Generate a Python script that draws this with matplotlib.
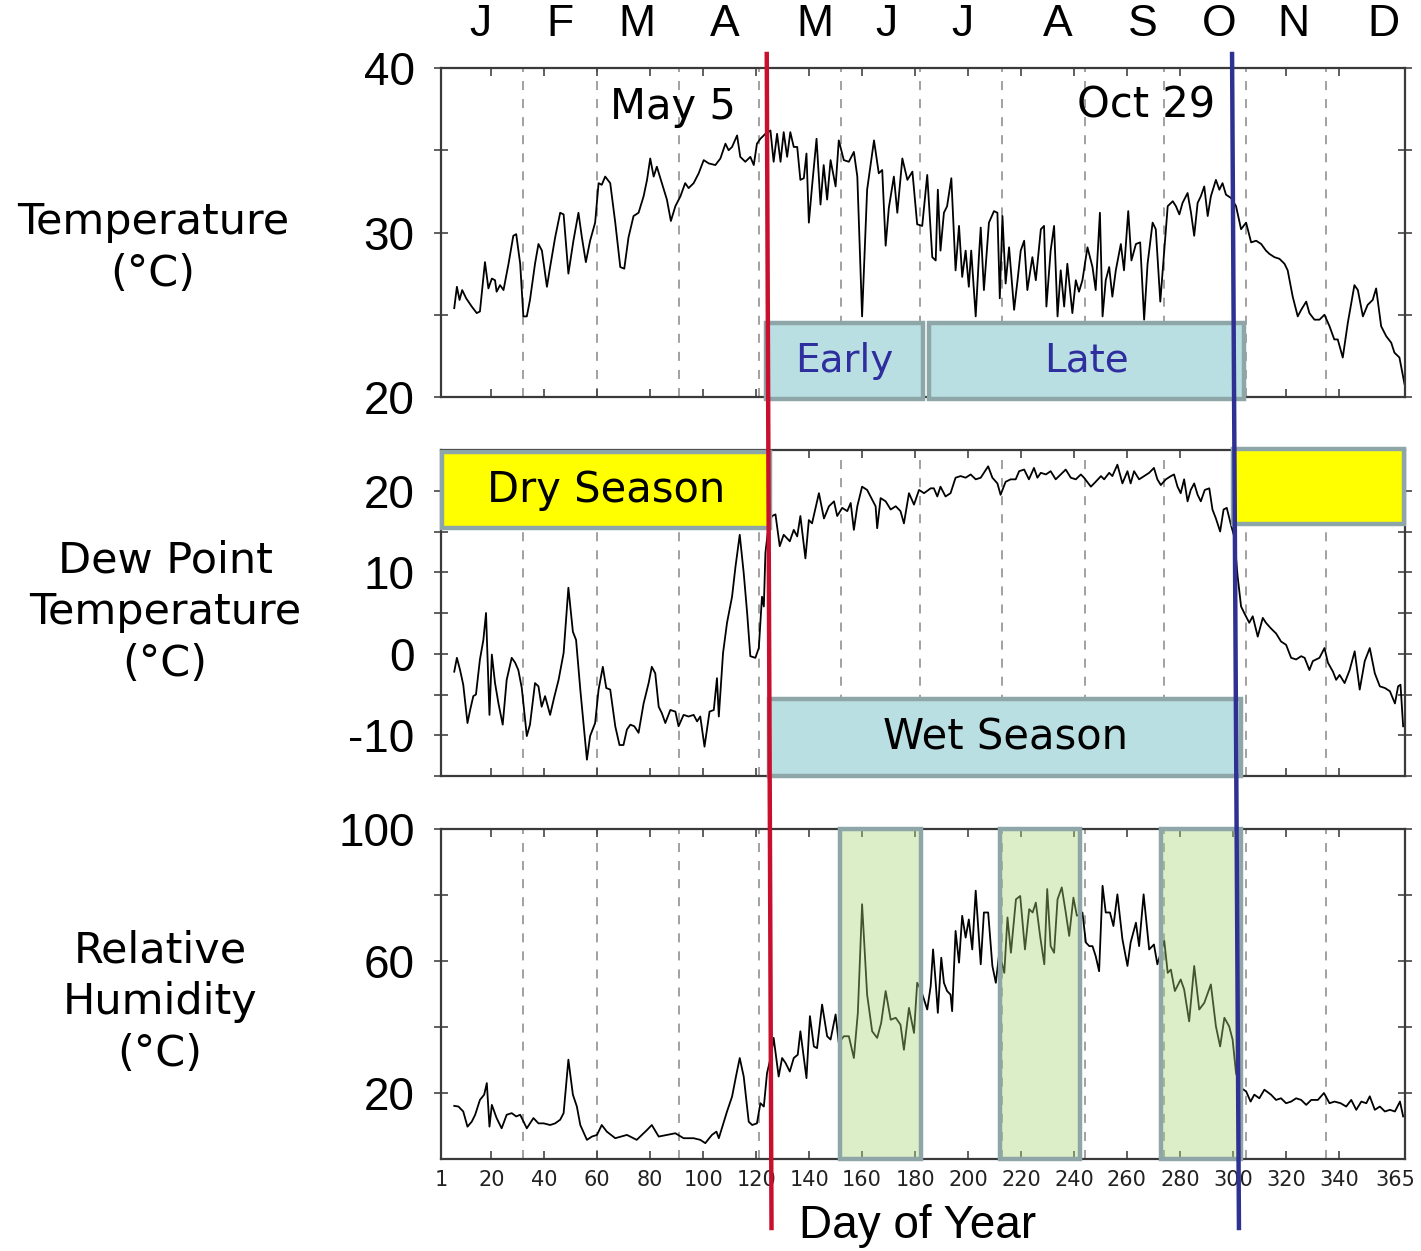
import numpy as np
import matplotlib
matplotlib.use("Agg")
import matplotlib.pyplot as plt
import matplotlib.transforms as mtrans
from matplotlib.patches import Rectangle
from matplotlib.lines import Line2D

plt.rcParams['axes.unicode_minus'] = False

# ---- data ----
temp_day = [6, 7, 8, 9, 10.5, 12.6, 14.5, 15.7, 17.6, 18.9, 20.2, 21.4, 22, 23.3, 24.6, 26.5, 28.3, 29.4,
            30.9, 32.1, 33.4, 34.6, 36.5, 37.8, 39.1, 41, 42.2, 44.1, 46, 47.3, 49.1, 51, 52.9, 54.2, 55.7,
            57.3, 59.2, 60.5, 61.7, 63, 64.9, 66.8, 68.7, 70.2, 71.8, 73.7, 75.6, 77.5, 78.8, 80, 81.3, 82.5,
            84.4, 86.3, 87.8, 89.5, 91.4, 93.2, 94.5, 96.4, 98.3, 100.2, 102.1, 104.6, 106.5, 108.4, 109.6,
            110.9, 112.8, 114, 115.9, 117.8, 119.1, 120.3, 121.6, 123.5, 125.4, 126.6, 127.9, 129.2, 130.4,
            131.7, 132.9, 134.2, 135.5, 136.7, 138, 139, 139.9, 141.1, 142.8, 144.3, 145.5, 146.8, 148.1,
            150, 151.2, 153.1, 155, 156.9, 158.2, 160, 161.9, 164.5, 166.3, 167.6, 168.9, 170.1, 172, 173.3,
            175.2, 177.1, 179, 180.8, 182.7, 184.6, 186.5, 187.8, 188.6, 189.6, 190.9, 192.1, 193.7, 195.3,
            196.6, 197.8, 199.1, 200.3, 201.2, 202.9, 204.1, 204.8, 206, 207.9, 209.8, 211.1, 212, 213,
            214.2, 215.5, 217.4, 218.7, 219.9, 221.2, 222.4, 224.3, 225.6, 227.5, 228.7, 229.6, 231.2,
            232.5, 233.8, 235, 236.3, 237.5, 239.4, 240.7, 241.9, 243.2, 245.1, 247, 248.2, 249.8, 250.8,
            252, 253.3, 254.5, 255.8, 257.7, 258.9, 260.5, 261.7, 263.4, 265, 266.5, 267.8, 269.7, 270.9,
            272.6, 274.1, 275.4, 277.3, 278.5, 279.8, 281, 282.9, 284.2, 285.4, 286.7, 287.9, 289.2, 290.5,
            291.7, 293.6, 294.9, 296.1, 297.4, 299.3, 301.2, 303.1, 305, 306.9, 308.8, 310.7, 312.5, 313.8,
            315.7, 317.6, 319.5, 320.7, 322.6, 324.5, 325.8, 327.7, 328.9, 330.8, 332.7, 334.6, 336.5,
            338.3, 339.6, 341.5, 343.4, 345.9, 347.2, 349.1, 350.9, 352.8, 354.1, 356, 357.9, 359.8, 361,
            362.9, 364.8]
temp_val = [25.4, 26.7, 25.9, 26.5, 26.0, 25.5, 25.1, 25.2, 28.2, 26.6, 27.2, 27.1, 26.4, 26.8, 26.5, 28.1,
            29.8, 29.9, 28.1, 24.9, 24.9, 25.9, 28.1, 29.3, 28.9, 26.7, 27.9, 29.7, 31.2, 31.1, 27.5, 29.5,
            31.2, 29.7, 28.2, 29.5, 30.6, 33.0, 32.9, 33.4, 33.0, 30.6, 27.9, 27.8, 29.7, 31.0, 31.2, 32.2,
            33.2, 34.5, 33.4, 34.0, 33.0, 32.0, 30.7, 31.6, 32.2, 33.0, 32.7, 33.0, 33.6, 34.4, 34.2, 34.1,
            34.5, 35.4, 35.0, 35.2, 35.9, 34.6, 34.3, 34.6, 34.1, 35.4, 35.7, 36.0, 36.2, 34.3, 36.0, 34.3,
            36.1, 34.6, 36.1, 35.2, 35.2, 33.2, 33.3, 34.8, 30.6, 32.8, 35.7, 31.7, 34.1, 32.0, 34.4, 32.8,
            35.6, 34.4, 34.3, 34.9, 33.4, 24.9, 32.6, 35.6, 33.6, 33.8, 29.2, 31.5, 33.4, 31.2, 34.5, 33.2,
            33.7, 30.5, 30.4, 33.5, 28.5, 28.3, 32.6, 28.9, 31.2, 31.6, 33.3, 27.7, 30.4, 27.3, 28.9, 26.7,
            28.9, 24.9, 28.5, 30.3, 26.5, 30.6, 31.3, 31.2, 26.0, 31.0, 26.9, 29.1, 25.3, 27.1, 28.9, 29.5,
            26.5, 28.5, 27.1, 30.2, 30.4, 25.5, 28.9, 30.4, 24.9, 27.7, 25.5, 28.1, 25.1, 27.1, 26.4, 27.1,
            29.1, 27.9, 26.5, 31.2, 24.9, 27.1, 27.9, 26.1, 27.7, 29.3, 27.7, 31.3, 28.3, 29.3, 29.4, 24.7,
            28.1, 30.6, 30.2, 25.8, 28.9, 31.6, 31.9, 31.6, 31.1, 31.8, 32.4, 31.2, 29.8, 31.8, 32.2, 32.8,
            31.0, 32.2, 33.2, 32.6, 33.0, 32.3, 32.1, 31.6, 30.2, 30.6, 29.4, 29.5, 29.3, 28.9, 28.7, 28.5,
            28.4, 28.1, 27.7, 26.1, 24.9, 25.3, 25.8, 25.1, 24.7, 24.7, 25.0, 24.3, 23.5, 23.5, 22.4, 24.5,
            26.8, 26.5, 24.9, 25.6, 25.9, 26.6, 24.3, 23.7, 23.3, 22.7, 22.4, 20.8]

dew_day = [6, 7, 8.2, 9.4, 11, 12, 13.2, 14.2, 15.7, 17, 18, 19.3, 20.2, 21.4, 22.7, 24.3, 25.8, 27.7, 29,
           30.2, 31.5, 33.4, 34.6, 36.5, 37.8, 39, 40.3, 42.2, 43.7, 45.4, 47.3, 49.1, 50.8, 52, 53.6, 56.1,
           57.3, 59.2, 60.5, 62.1, 63.4, 64.9, 66.8, 68.4, 69.9, 71.2, 72.5, 74, 75.6, 77.5, 79.4, 80.6,
           81.9, 83.2, 84.4, 85.7, 87.6, 89.5, 90.7, 92.6, 94.5, 96.4, 97.7, 98.9, 100.5, 102.4, 104,
           105.2, 105.9, 107.5, 109, 110.9, 112.2, 113.8, 115.3, 116.6, 117.8, 119.7, 121, 122.2, 122.9,
           123.5, 124.8, 126, 127.3, 128.9, 130.4, 132.7, 134.2, 135.5, 136.7, 138.6, 139.9, 141.1,
           143.7, 145.6, 147.5, 149.4, 150.6, 152.5, 154.4, 155.7, 156.9, 158.2, 160, 161.9, 163.8,
           165.1, 165.7, 167, 168.9, 170.8, 172.7, 174.5, 175.8, 177.7, 179.6, 181.5, 183.4, 185.9,
           187.1, 188.4, 189.6, 191.5, 193.4, 195.3, 197.2, 199.1, 201, 202.9, 204.8, 206, 207.6, 209.2,
           211.1, 212.3, 214.2, 216.1, 218, 219.3, 221.2, 223, 224.9, 226.2, 227.5, 229.4, 231.2, 233.1,
           235, 236.9, 238.8, 240.7, 242.6, 243.8, 246.4, 248.2, 250.2, 251.4, 253.3, 254.5, 256.4,
           258.3, 260.2, 261.4, 262.7, 264.6, 266.5, 268.4, 270.2, 271.5, 272.8, 274.7, 276.6, 277.8,
           279.1, 280.3, 281.6, 282.9, 284.1, 285.4, 286.7, 287.9, 289.4, 291.1, 292.3, 293.6, 295.2,
           296.5, 297.7, 299.3, 300.5, 301.8, 303.1, 304.3, 306.2, 307.5, 309.4, 311.3, 312.5, 314.4,
           316.3, 318.2, 320.1, 322, 323.9, 325.8, 327.1, 328.9, 330.2, 332.7, 334.6, 335.9, 337.8, 339,
           340.3, 342.2, 344.1, 346, 347.9, 349.8, 351.7, 353.6, 355.5, 357.4, 359.3, 361.2, 362.4,
           363.3, 364.3]
dew_val = [-2.2, -0.5, -2.0, -3.8, -8.5, -6.9, -5.2, -5.0, -0.7, 1.7, 5.0, -7.5, -0.1, -3.6, -6.1, -8.7,
           -3.2, -0.5, -1.1, -2.0, -4.2, -10.1, -8.7, -3.6, -4.0, -6.5, -5.2, -7.5, -5.4, -3.2, 0.1, 8.1,
           2.7, 1.7, -4.4, -13.0, -10.1, -8.5, -4.4, -1.6, -4.2, -4.4, -8.9, -11.2, -11.2, -9.3, -8.7,
           -8.9, -9.7, -6.1, -3.6, -1.6, -2.4, -6.5, -7.3, -8.5, -6.9, -7.1, -8.9, -7.5, -7.7, -7.5,
           -8.3, -7.7, -11.4, -7.1, -6.9, -3.0, -7.7, 0.1, 3.8, 7.0, 10.7, 14.6, 9.9, 5.0, -0.3, -0.5,
           0.7, 7.0, 5.8, 12.4, 16.0, 16.9, 17.1, 13.2, 14.6, 13.8, 15.2, 14.4, 16.9, 11.7, 16.4, 16.0,
           19.7, 16.6, 18.1, 18.7, 16.9, 17.9, 17.5, 18.5, 15.2, 18.1, 20.5, 20.1, 18.9, 18.1, 15.4,
           19.1, 18.7, 17.7, 18.1, 17.5, 16.0, 19.7, 18.3, 20.1, 19.7, 20.3, 20.3, 19.3, 20.5, 19.3,
           19.7, 21.6, 21.8, 21.6, 22.0, 21.4, 21.6, 22.2, 23.0, 21.6, 20.9, 19.5, 21.1, 21.4, 21.4,
           22.4, 22.6, 21.4, 22.8, 21.6, 22.2, 22.0, 22.4, 21.4, 22.0, 22.6, 21.6, 21.4, 22.0, 21.6,
           20.5, 21.1, 21.8, 21.4, 22.2, 21.8, 23.2, 20.9, 22.4, 20.9, 22.4, 21.4, 21.8, 22.2, 22.8,
           21.4, 20.7, 21.4, 21.8, 22.0, 20.5, 19.7, 21.4, 18.7, 20.1, 20.9, 19.5, 18.7, 20.1, 20.3,
           17.7, 16.6, 15.0, 17.7, 17.9, 15.8, 14.4, 9.5, 5.8, 5.0, 3.8, 4.6, 2.1, 4.4, 3.8, 3.1, 2.5,
           1.5, 1.1, -0.5, -0.7, -0.3, -0.5, -2.0, -0.9, -0.5, 0.7, -1.1, -2.2, -3.2, -2.6, -3.6, -2.0,
           0.3, -4.4, -0.9, 0.7, -2.4, -4.0, -4.2, -4.6, -6.1, -4.0, -3.8, -8.9]

rh_day = [6, 7.6, 9.4, 11, 12.6, 13.9, 15.7, 17.3, 18.3, 19.3, 20.2, 22, 23.9, 25.8, 27.7, 29.4, 30.9,
          33.4, 35.9, 37.8, 39.8, 42.2, 44.1, 46, 47.3, 49.1, 50.8, 52.3, 53.6, 56.1, 58, 59.9, 61.7,
          63.6, 66.8, 71.2, 74.9, 78.8, 80.6, 83.2, 86.3, 89.5, 92.6, 96.4, 98.9, 100.8, 103.3, 105,
          105.9, 109, 110.9, 112.5, 113.8, 115.3, 117.2, 118.5, 120.3, 121.6, 122.9, 124.1, 125.6,
          126.6, 128.5, 129.8, 131.1, 132.7, 134.2, 135.7, 136.7, 139, 140.3, 141.8, 143, 144.9, 146.8,
          148.1, 150, 151.2, 153.1, 155, 156.9, 158.4, 160, 161.9, 163.8, 165.7, 167.2, 168.9, 170.8,
          172.7, 174.5, 175.8, 177.7, 179.6, 180.8, 182.1, 183.4, 184.6, 185.9, 186.8, 187.8, 188.6,
          189.9, 190.9, 192.1, 193.4, 194, 195.3, 196.6, 197.8, 199.1, 200.3, 201.6, 202.9, 204.8, 206,
          207.6, 209.2, 210.5, 211.8, 213.7, 214.9, 216.2, 218.1, 219.7, 221.5, 223.1, 224.4, 225.6,
          227.3, 228.8, 229.9, 231.2, 232.5, 233.8, 235.4, 236.9, 238.2, 239.8, 241.1, 243.2, 244.5,
          245.8, 247, 248.2, 249.5, 250.8, 252, 253.6, 254.9, 256.4, 258.3, 260.2, 261.4, 263.4, 264.6,
          266.3, 268.4, 270.2, 271.5, 274.1, 275.4, 276.6, 278.1, 280.3, 281.6, 283.5, 285.4, 287.3,
          289.2, 291.7, 293.6, 295.2, 296.8, 298.6, 299.9, 301.2, 303.1, 305, 306.7, 308.1, 310, 311.9,
          314.4, 316.3, 318.2, 320.1, 322, 323.9, 325.8, 327.7, 329.6, 332.1, 334.4, 336.5, 338.4,
          340.7, 342.8, 344.7, 346.6, 348.5, 350.4, 351.7, 353.6, 355.5, 357.4, 359.3, 361.2, 363.1,
          364.3]
rh_val = [16.1, 15.9, 14.4, 9.8, 11.3, 13.4, 17.9, 19.5, 23.0, 9.8, 16.4, 12.4, 9.3, 13.4, 13.9, 12.9,
          13.4, 9.3, 12.4, 10.8, 10.8, 10.3, 10.8, 11.9, 13.9, 30.1, 19.5, 15.9, 10.3, 5.8, 6.8, 7.3,
          10.3, 8.3, 6.3, 7.3, 5.8, 8.8, 10.3, 6.8, 7.3, 7.8, 6.3, 6.3, 5.8, 4.8, 7.3, 8.3, 6.3, 14.4,
          18.9, 25.5, 30.6, 25.0, 11.3, 10.3, 10.8, 16.9, 15.9, 26.0, 31.1, 36.7, 25.0, 30.6, 29.1,
          26.5, 30.6, 31.6, 38.7, 24.5, 43.3, 34.1, 33.6, 46.8, 37.2, 36.2, 43.8, 35.2, 37.2, 37.2,
          30.6, 44.3, 77.2, 49.8, 38.7, 36.7, 41.2, 50.9, 42.2, 42.8, 40.7, 33.1, 45.8, 38.2, 53.4,
          51.4, 48.3, 45.3, 52.4, 63.5, 53.4, 44.3, 61.0, 53.4, 50.9, 49.8, 44.8, 69.1, 59.5, 73.7,
          67.1, 72.6, 63.5, 81.3, 59.0, 74.7, 74.7, 58.5, 53.4, 62.5, 56.4, 73.2, 62.5, 78.7, 79.7,
          63.5, 75.7, 74.7, 77.7, 67.1, 59.0, 81.8, 64.5, 62.5, 78.7, 82.3, 74.7, 67.6, 79.2, 73.7,
          74.7, 65.6, 64.5, 64.5, 61.5, 56.9, 82.8, 74.7, 74.7, 70.6, 80.2, 66.6, 58.5, 65.6, 71.6,
          64.5, 80.2, 63.5, 65.0, 59.0, 66.1, 56.4, 57.4, 50.9, 54.4, 51.4, 41.7, 58.5, 45.3, 47.3,
          52.9, 40.2, 34.1, 42.8, 40.2, 36.2, 26.0, 21.5, 20.5, 17.4, 19.5, 18.4, 21.0, 19.5, 17.9,
          18.4, 16.9, 17.4, 18.4, 17.9, 16.4, 17.9, 17.9, 20.0, 16.9, 17.4, 16.9, 15.9, 17.9, 14.9,
          17.4, 16.9, 19.0, 14.9, 15.9, 14.4, 14.9, 14.4, 17.4, 12.9]

month_letters = ["J", "F", "M", "A", "M", "J", "J", "A", "S", "O", "N", "D"]
month_label_days = [16, 46, 75, 108, 142, 169, 198, 234, 266, 295, 323, 357]
month_starts = [32, 60, 91, 121, 152, 182, 213, 244, 274, 305, 335]
xtick_days = [1, 20, 40, 60, 80, 100, 120, 140, 160, 180, 200, 220, 240, 260, 280, 300, 320, 340, 365]

may5_line = (124.0, 125.8)   # day at top, day at bottom
oct29_line = (299.7, 302.3)

green_spans = [(151.8, 182.1), (211.9, 242.2), (272.8, 303.1)]

# ---- layout ----
W_PX, H_PX = 1421, 1251
fig = plt.figure(figsize=(W_PX / 100, H_PX / 100), dpi=100)
L, AW = 441 / W_PX, 964 / W_PX

def panel(top_px, bot_px):
    return fig.add_axes([L, 1 - bot_px / H_PX, AW, (bot_px - top_px) / H_PX])

ax1 = panel(68, 397)
ax2 = panel(450, 776)
ax3 = panel(829, 1159)

edge = "#8ea6a8"
teal = "#b9dfe2"
sans = ["Liberation Sans", "DejaVu Sans"]
comic = ["DejaVu Sans"]

for ax in (ax1, ax2, ax3):
    ax.set_xlim(1, 365)
    ax.set_xticks(xtick_days)
    for d in month_starts:
        ax.axvline(d, color="#9a9a9a", lw=1.3, ls=(0, (5, 5)), zorder=1)
    for s in ax.spines.values():
        s.set_color("#3a3a3a")
        s.set_linewidth(1.6)
    ax.tick_params(axis="x", direction="in", top=True, length=6, width=1.2, color="#444",
                   labelsize=15, labelcolor="#222", pad=8)
    ax.tick_params(axis="y", direction="inout", right=True, length=10, width=1.2, color="#444",
                   labelsize=33, pad=14)
    ax.tick_params(which="minor", axis="y", direction="inout", right=True, length=10, width=1.2, color="#444")

ax1.tick_params(labelbottom=False)
ax2.tick_params(labelbottom=False)

# temperature
ax1.plot(temp_day, temp_val, color="black", lw=1.3, zorder=2)
ax1.set_ylim(20, 40)
ax1.set_yticks([20, 30, 40])
ax1.set_yticks([25, 35], minor=True)

# dew point
ax2.plot(dew_day, dew_val, color="black", lw=1.3, zorder=2)
ax2.set_ylim(-15, 25)
ax2.set_yticks([-10, 0, 10, 20])
ax2.set_yticks([-15, -5, 5, 15], minor=True)

# humidity
ax3.plot(rh_day, rh_val, color="black", lw=1.3, zorder=2)
ax3.set_ylim(0, 100)
ax3.set_yticks([20, 60, 100])
ax3.set_yticks([40, 80], minor=True)

for ax in (ax1, ax2, ax3):
    for lab in ax.get_yticklabels():
        lab.set_family(sans)
    for lab in ax.get_xticklabels():
        lab.set_family("DejaVu Sans")

# last tick label sits right at the edge; nudge it in a little
last = ax3.get_xticklabels()[-1]
last.set_transform(last.get_transform() + mtrans.ScaledTranslation(-10 / 100, 0, fig.dpi_scale_trans))

# boxes
def box(ax, x0, x1, y0, y1, face, text=None, tcolor="black", size=30):
    r = Rectangle((x0, y0), x1 - x0, y1 - y0, facecolor=face, edgecolor=edge, lw=3.2,
                  zorder=4, clip_on=False)
    ax.add_patch(r)
    if text:
        ax.text((x0 + x1) / 2, (y0 + y1) / 2, text, ha="center", va="center", color=tcolor,
                fontsize=size, family=comic, zorder=5)

box(ax1, 123.9, 182.9, 19.9, 24.5, teal, "Early", "#2e2e9e", 28)
box(ax1, 185.1, 304.2, 19.9, 24.5, teal, "Late", "#2e2e9e", 28)
box(ax2, 1.2, 125.4, 15.4, 24.8, "#ffff00", "Dry Season", "black", 30)
box(ax2, 300.1, 364.8, 15.9, 25.1, "#ffff00")
box(ax2, 125.0, 303.0, -15.0, -5.6, teal, "Wet Season", "black", 30)
for a, b in green_spans:
    ax3.add_patch(Rectangle((a, 0), b - a, 100, facecolor=(0.66, 0.84, 0.45, 0.4),
                            edgecolor=edge, lw=3.2, zorder=4, clip_on=False))

ax1.text(88.7, 37.6, "May 5", ha="center", va="center", fontsize=30, family=comic, zorder=6)
ax1.text(267.2, 37.75, "Oct 29", ha="center", va="center", fontsize=30, family=comic, zorder=6)

# month letters along the top
for m, d in zip(month_letters, month_label_days):
    fig.text(L + (d - 1) / 364 * AW, 1 - 25 / H_PX, m, ha="center", va="center",
             fontsize=32, family=sans)

# May 5 / Oct 29 lines across all panels
def day_fx(d):
    return L + (d - 1) / 364 * AW

top_y, bot_y = 1 - 54 / H_PX, 1 - 1228 / H_PX
fig.add_artist(Line2D([day_fx(may5_line[0]), day_fx(may5_line[1])], [top_y, bot_y],
                      color="#c8102e", lw=3.2, zorder=10))
fig.add_artist(Line2D([day_fx(oct29_line[0]), day_fx(oct29_line[1])], [top_y, bot_y],
                      color="#2e3192", lw=3.2, zorder=10))

fig.text(918 / W_PX, 1 - 1226 / H_PX, "Day of Year", ha="center", va="center", fontsize=33, family=sans)

# row labels
fig.text(153 / W_PX, 1 - 248 / H_PX, "Temperature\n(°C)", ha="center", va="center",
         fontsize=31, family=comic, linespacing=1.3)
fig.text(165 / W_PX, 1 - 612 / H_PX, "Dew Point\nTemperature\n(°C)", ha="center", va="center",
         fontsize=31, family=comic, linespacing=1.3)
fig.text(160 / W_PX, 1 - 1002 / H_PX, "Relative\nHumidity\n(°C)", ha="center", va="center",
         fontsize=31, family=comic, linespacing=1.3)

fig.savefig("out.png", dpi=100, facecolor="white")
